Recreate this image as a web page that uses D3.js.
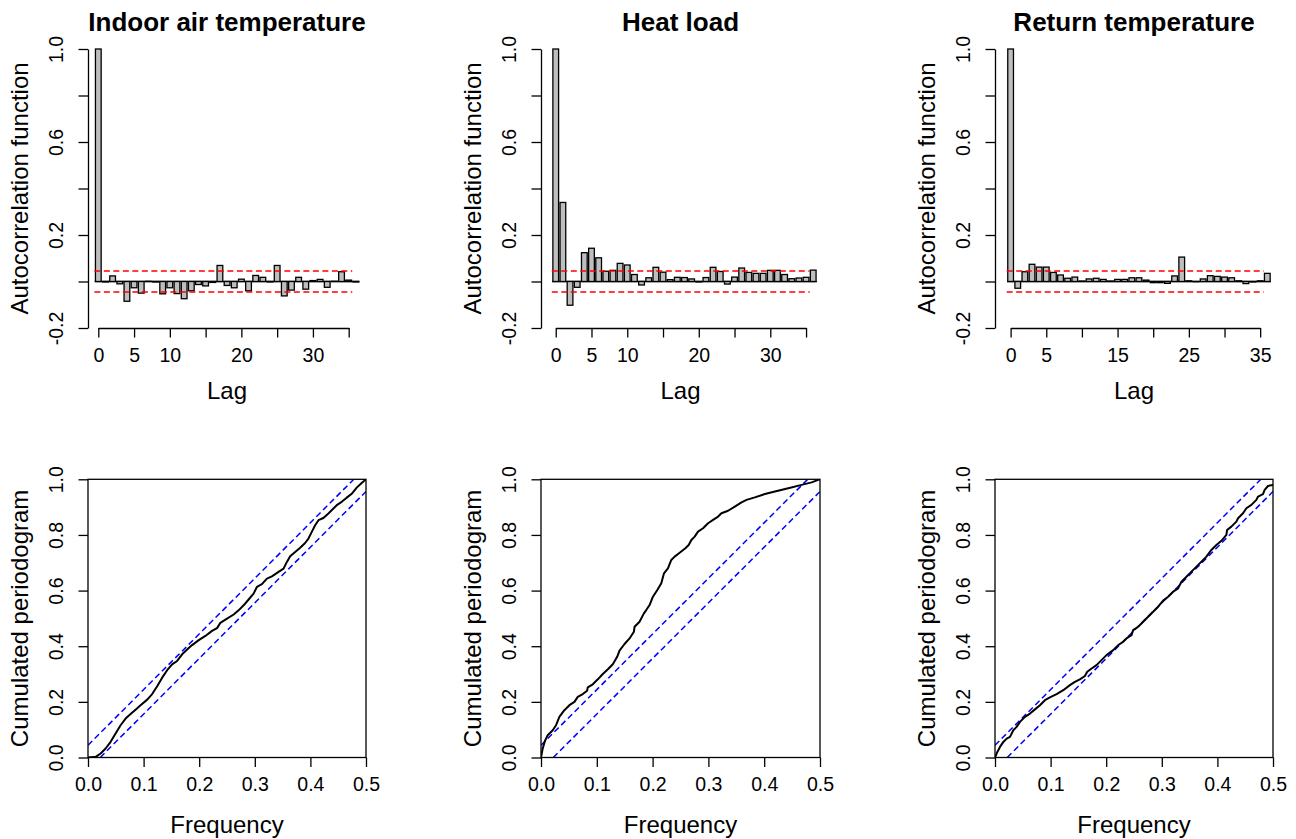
<!DOCTYPE html>
<html lang="en">
<head>
<meta charset="UTF-8">
<title>ACF and cumulated periodogram</title>
<script src="https://d3js.org/d3.v7.min.js"></script>
<style>
    body { margin: 0; background: #fff; }
    svg text { font-family: "Liberation Sans", Arial, sans-serif; fill: #000; }
    .tick line, .domain { stroke: #000; stroke-width: 1.3px; }
</style>
</head>
<body>
<div id="chart"></div>
<script>
// panel titles
const titles = ["Indoor air temperature", "Heat load", "Return temperature"];

// lags shown in the autocorrelation plots
const lags = [0, 1, 2, 3, 4, 5, 6, 7, 8, 9, 10, 11, 12, 13, 14, 15, 16, 17, 18,
    19, 20, 21, 22, 23, 24, 25, 26, 27, 28, 29, 30, 31, 32, 33, 34, 35, 36];

// autocorrelation values
const acfIndoor = [1, -0.002, 0.024, -0.01, -0.085, -0.027, -0.05, 0.001, -0.002, -0.053, -0.027, -0.052,
    -0.074, -0.04, -0.013, -0.019, -0.004, 0.069, -0.017, -0.027, 0.01, -0.04, 0.026, 0.018, -0.002,
    0.069, -0.062, -0.037, 0.018, -0.033, 0.004, 0.009, -0.025, 0.001, 0.042, 0.006, -0.002];
const acfHeat = [1, 0.340, -0.102, -0.025, 0.124, 0.143, 0.102, 0.044, 0.048, 0.078, 0.071, 0.030,
    -0.015, 0.016, 0.061, 0.040, 0.008, 0.018, 0.017, 0.011, -0.002, 0.017, 0.061, 0.043, -0.011,
    0.019, 0.058, 0.039, 0.035, 0.035, 0.048, 0.048, 0.030, 0.012, 0.015, 0.018, 0.049];
const acfReturn = [1, -0.029, 0.042, 0.074, 0.062, 0.062, 0.039, 0.028, 0.014, 0.019, 0.002, 0.011,
    0.014, 0.009, 0.002, 0.009, 0.009, 0.016, 0.016, 0.006, -0.005, -0.005, -0.008, 0.024, 0.105,
    0.003, -0.001, 0.011, 0.025, 0.022, 0.019, 0.016, 0.003, -0.009, -0.002, 0.003, 0.035];
// significance bound (red dashed lines)
const acfBound = [0.045, 0.045, 0.045];

// lag tick labels per panel
const lagTicks = [0, 5, 10, 15, 20, 25, 30, 35];
const lagLabels = [[0, 5, 10, 20, 30], [0, 5, 10, 20, 30], [0, 5, 15, 25, 35]];
const acfTicks = [-0.2, 0, 0.2, 0.4, 0.6, 0.8, 1.0];
const acfLabels = [-0.2, 0.2, 0.6, 1.0];

// cumulated periodograms
const freqIndoor = [0, 0.0138, 0.0227, 0.0317, 0.0407, 0.0496, 0.0586, 0.0676, 0.0766, 0.0855, 0.0945,
    0.1065, 0.1154, 0.1244, 0.1334, 0.1435, 0.1513, 0.1603, 0.1693, 0.1782, 0.1872, 0.1992, 0.2111,
    0.2231, 0.2321, 0.238, 0.25, 0.262, 0.2709, 0.2799, 0.2889, 0.2978, 0.3038, 0.3128, 0.3218, 0.3307,
    0.3427, 0.3517, 0.3577, 0.3636, 0.3726, 0.3816, 0.3905, 0.3965, 0.4025, 0.4085, 0.4145, 0.4234,
    0.4324, 0.4414, 0.4474, 0.4563, 0.4653, 0.4743, 0.4833, 0.4922, 0.5];
const cumIndoor = [0, 0.0024, 0.0144, 0.0323, 0.0563, 0.0862, 0.116, 0.140, 0.156, 0.172, 0.188,
    0.208, 0.228, 0.256, 0.287, 0.317, 0.335, 0.347, 0.371, 0.388, 0.404, 0.422, 0.437,
    0.455, 0.465, 0.484, 0.499, 0.514, 0.529, 0.547, 0.568, 0.589, 0.613, 0.623, 0.643, 0.651,
    0.667, 0.679, 0.703, 0.723, 0.739, 0.754, 0.771, 0.787, 0.811, 0.835, 0.853, 0.861,
    0.877, 0.895, 0.907, 0.919, 0.934, 0.948, 0.970, 0.987, 1.0];

const freqHeat = [0, 0.003, 0.0072, 0.012, 0.021, 0.027, 0.0329, 0.0419, 0.0509, 0.0599, 0.0659, 0.0749,
    0.0826, 0.0838, 0.0928, 0.1018, 0.1108, 0.1198, 0.1287, 0.1365, 0.1407, 0.1497, 0.1587, 0.1665,
    0.1677, 0.1766, 0.1844, 0.1886, 0.1946, 0.2006, 0.2084, 0.2156, 0.2204, 0.2275, 0.2335, 0.2395,
    0.2485, 0.2587, 0.2647, 0.2695, 0.2754, 0.2814, 0.2904, 0.2994, 0.3084, 0.3174, 0.3234, 0.3353,
    0.3473, 0.3593, 0.3683, 0.3832, 0.4012, 0.4192, 0.4431, 0.4671, 0.4850, 0.5];
const cumHeat = [0, 0.032, 0.060, 0.080, 0.098, 0.116, 0.146, 0.170, 0.188, 0.200, 0.218, 0.228,
    0.240, 0.252, 0.263, 0.281, 0.300, 0.317, 0.335, 0.362, 0.384, 0.408, 0.428, 0.452,
    0.470, 0.488, 0.518, 0.530, 0.548, 0.578, 0.602, 0.626, 0.662, 0.680, 0.710, 0.722,
    0.736, 0.752, 0.764, 0.782, 0.794, 0.812, 0.824, 0.842, 0.854, 0.866, 0.878, 0.887,
    0.902, 0.917, 0.926, 0.935, 0.947, 0.956, 0.968, 0.980, 0.989, 1.0];

const freqReturn = [0, 0.0042, 0.009, 0.015, 0.021, 0.027, 0.0329, 0.0389, 0.0449, 0.0539, 0.0629, 0.0719,
    0.0808, 0.0898, 0.0988, 0.1108, 0.1228, 0.1347, 0.1437, 0.1527, 0.1617, 0.1659, 0.1737, 0.1826,
    0.1916, 0.2006, 0.2126, 0.2216, 0.2305, 0.2365, 0.2455, 0.2485, 0.2575, 0.2665, 0.2754, 0.2844,
    0.2934, 0.3024, 0.3114, 0.3204, 0.3293, 0.3353, 0.3443, 0.3533, 0.3623, 0.3713, 0.3802, 0.3892,
    0.3982, 0.4072, 0.4162, 0.4174, 0.4251, 0.4341, 0.4371, 0.4461, 0.4521, 0.4611, 0.4701, 0.4731,
    0.4820, 0.4850, 0.4910, 0.5];
const cumReturn = [0, 0.020, 0.038, 0.056, 0.068, 0.074, 0.098, 0.110, 0.128, 0.146, 0.158, 0.173,
    0.188, 0.206, 0.216, 0.228, 0.242, 0.260, 0.272, 0.281, 0.293, 0.308, 0.320, 0.332,
    0.350, 0.368, 0.386, 0.404, 0.416, 0.428, 0.440, 0.458, 0.470, 0.488, 0.506, 0.524,
    0.542, 0.564, 0.578, 0.596, 0.608, 0.632, 0.650, 0.668, 0.686, 0.704, 0.722, 0.746,
    0.764, 0.779, 0.800, 0.818, 0.830, 0.848, 0.860, 0.878, 0.896, 0.908, 0.926, 0.938,
    0.947, 0.962, 0.976, 0.980];
// Kolmogorov-Smirnov band half width (blue dashed lines)
const cpgBound = [0.044, 0.044, 0.044];

const freqTicks = [0, 0.1, 0.2, 0.3, 0.4, 0.5];
const cumTicks = [0, 0.2, 0.4, 0.6, 0.8, 1.0];

const acfSeries = [acfIndoor, acfHeat, acfReturn];
const freqSeries = [freqIndoor, freqHeat, freqReturn];
const cumSeries = [cumIndoor, cumHeat, cumReturn];

// layout (pixels)
const W = 1296, H = 839;
const plotLeft = [88, 541, 995];
const plotRight = [366, 820, 1273];
const lagDomain = [[-1.44, 37.42], [-2.06, 36.95], [-2.19, 36.8]];
const topY = [49, 328];
const botY = [479.3, 757.5];

// R style numbers: one decimal, plain hyphen for the minus sign
const fmt1 = d => d.toFixed(1);

const svg = d3.select("#chart").append("svg")
    .attr("width", W)
    .attr("height", H)
    .style("background", "#fff");

function styleLeftAxis(g, offset) {
    g.selectAll(".tick text")
        .attr("x", 0)
        .attr("dy", 0)
        .attr("text-anchor", "middle")
        .attr("transform", `translate(${-offset},0) rotate(-90)`)
        .style("font-size", "19.5px");
}

titles.forEach((title, i) => {
    const x0 = plotLeft[i], x1 = plotRight[i];

    // ---- top: autocorrelation function ----
    const x = d3.scaleLinear().domain(lagDomain[i]).range([x0, x1]);
    const y = d3.scaleLinear().domain([-0.2, 1.0]).range([topY[1], topY[0]]);
    const top = svg.append("g");

    const step = x(1) - x(0);
    const bw = step * 0.8;
    const acf = acfSeries[i];

    // zero line under the bars
    top.append("line")
        .attr("x1", x(lags[0]) - step / 2)
        .attr("x2", x(lags[lags.length - 1]) + step / 2)
        .attr("y1", y(0)).attr("y2", y(0))
        .attr("stroke", "#000").attr("stroke-width", 1.6);

    top.selectAll("rect.bar")
        .data(lags)
        .join("rect")
        .attr("class", "bar")
        .attr("x", d => x(d) - bw / 2)
        .attr("width", bw)
        .attr("y", d => y(Math.max(0, acf[d])))
        .attr("height", d => Math.abs(y(acf[d]) - y(0)))
        .attr("fill", "#bebebe")
        .attr("stroke", "#000")
        .attr("stroke-width", 1.3);

    [acfBound[i], -acfBound[i]].forEach(b => {
        top.append("line")
            .attr("x1", x(-0.55)).attr("x2", x(35.5))
            .attr("y1", y(b)).attr("y2", y(b))
            .attr("stroke", "#ff0000")
            .attr("stroke-width", 1.5)
            .attr("stroke-dasharray", "6,3.5");
    });

    const xAxisScale = x.copy().domain([0, 35]).range([x(0), x(35)]);
    const xa = top.append("g")
        .attr("transform", `translate(0,${topY[1]})`)
        .call(d3.axisBottom(xAxisScale).tickValues(lagTicks).tickSize(9.5).tickSizeOuter(0)
            .tickFormat(d => lagLabels[i].includes(d) ? d : ""));
    xa.selectAll(".tick text").attr("y", 0).attr("dy", 0)
        .attr("transform", "translate(0,34)").style("font-size", "19.5px");

    const ya = top.append("g")
        .attr("transform", `translate(${x0},0)`)
        .call(d3.axisLeft(y).tickValues(acfTicks).tickSize(9.5).tickSizeOuter(0)
            .tickFormat(d => acfLabels.some(v => Math.abs(v - d) < 1e-9) ? fmt1(d) : ""));
    styleLeftAxis(ya, 25);

    top.append("text")
        .attr("x", (x0 + x1) / 2).attr("y", 31)
        .attr("text-anchor", "middle")
        .style("font-size", "26px").style("font-weight", "bold")
        .text(title);

    top.append("text")
        .attr("x", (x0 + x1) / 2).attr("y", 399)
        .attr("text-anchor", "middle")
        .style("font-size", "24px")
        .text("Lag");

    top.append("text")
        .attr("transform", `translate(${x0 - 60},${(topY[0] + topY[1]) / 2}) rotate(-90)`)
        .attr("text-anchor", "middle")
        .style("font-size", "24px")
        .text("Autocorrelation function");

    // ---- bottom: cumulated periodogram ----
    const fx = d3.scaleLinear().domain([0, 0.5]).range([x0, x1]);
    const cy = d3.scaleLinear().domain([0, 1]).range([botY[1], botY[0]]);
    const bot = svg.append("g");

    const clipId = "clip" + i;
    bot.append("clipPath").attr("id", clipId)
        .append("rect")
        .attr("x", x0).attr("y", botY[0])
        .attr("width", x1 - x0).attr("height", botY[1] - botY[0]);

    const c = cpgBound[i];
    const bands = [
        [[0, c], [(1 - c) / 2, 1]],
        [[c / 2, 0], [0.5, 1 - c]]
    ];
    bot.selectAll("line.band")
        .data(bands)
        .join("line")
        .attr("class", "band")
        .attr("clip-path", `url(#${clipId})`)
        .attr("x1", d => fx(d[0][0])).attr("y1", d => cy(d[0][1]))
        .attr("x2", d => fx(d[1][0])).attr("y2", d => cy(d[1][1]))
        .attr("stroke", "#0000ff")
        .attr("stroke-width", 1.5)
        .attr("stroke-dasharray", "6,3.5");

    const pts = freqSeries[i].map((f, k) => [f, cumSeries[i][k]]);
    bot.append("path")
        .datum(pts)
        .attr("clip-path", `url(#${clipId})`)
        .attr("fill", "none")
        .attr("stroke", "#000")
        .attr("stroke-width", 2)
        .attr("stroke-linejoin", "round")
        .attr("d", d3.line().x(d => fx(d[0])).y(d => cy(d[1])));

    bot.append("rect")
        .attr("x", x0).attr("y", botY[0])
        .attr("width", x1 - x0).attr("height", botY[1] - botY[0])
        .attr("fill", "none")
        .attr("stroke", "#000")
        .attr("stroke-width", 1.3);

    const fa = bot.append("g")
        .attr("transform", `translate(0,${botY[1]})`)
        .call(d3.axisBottom(fx).tickValues(freqTicks).tickSize(9.5).tickSizeOuter(0)
            .tickFormat(fmt1));
    fa.select(".domain").remove();
    fa.selectAll(".tick text").attr("y", 0).attr("dy", 0)
        .attr("transform", "translate(0,33)").style("font-size", "19.5px");

    const ca = bot.append("g")
        .attr("transform", `translate(${x0},0)`)
        .call(d3.axisLeft(cy).tickValues(cumTicks).tickSize(9.5).tickSizeOuter(0)
            .tickFormat(fmt1));
    ca.select(".domain").remove();
    styleLeftAxis(ca, 25);

    bot.append("text")
        .attr("x", (x0 + x1) / 2).attr("y", 833)
        .attr("text-anchor", "middle")
        .style("font-size", "24px")
        .text("Frequency");

    bot.append("text")
        .attr("transform", `translate(${x0 - 60},${(botY[0] + botY[1]) / 2}) rotate(-90)`)
        .attr("text-anchor", "middle")
        .style("font-size", "24px")
        .text("Cumulated periodogram");
});
</script>
</body>
</html>
